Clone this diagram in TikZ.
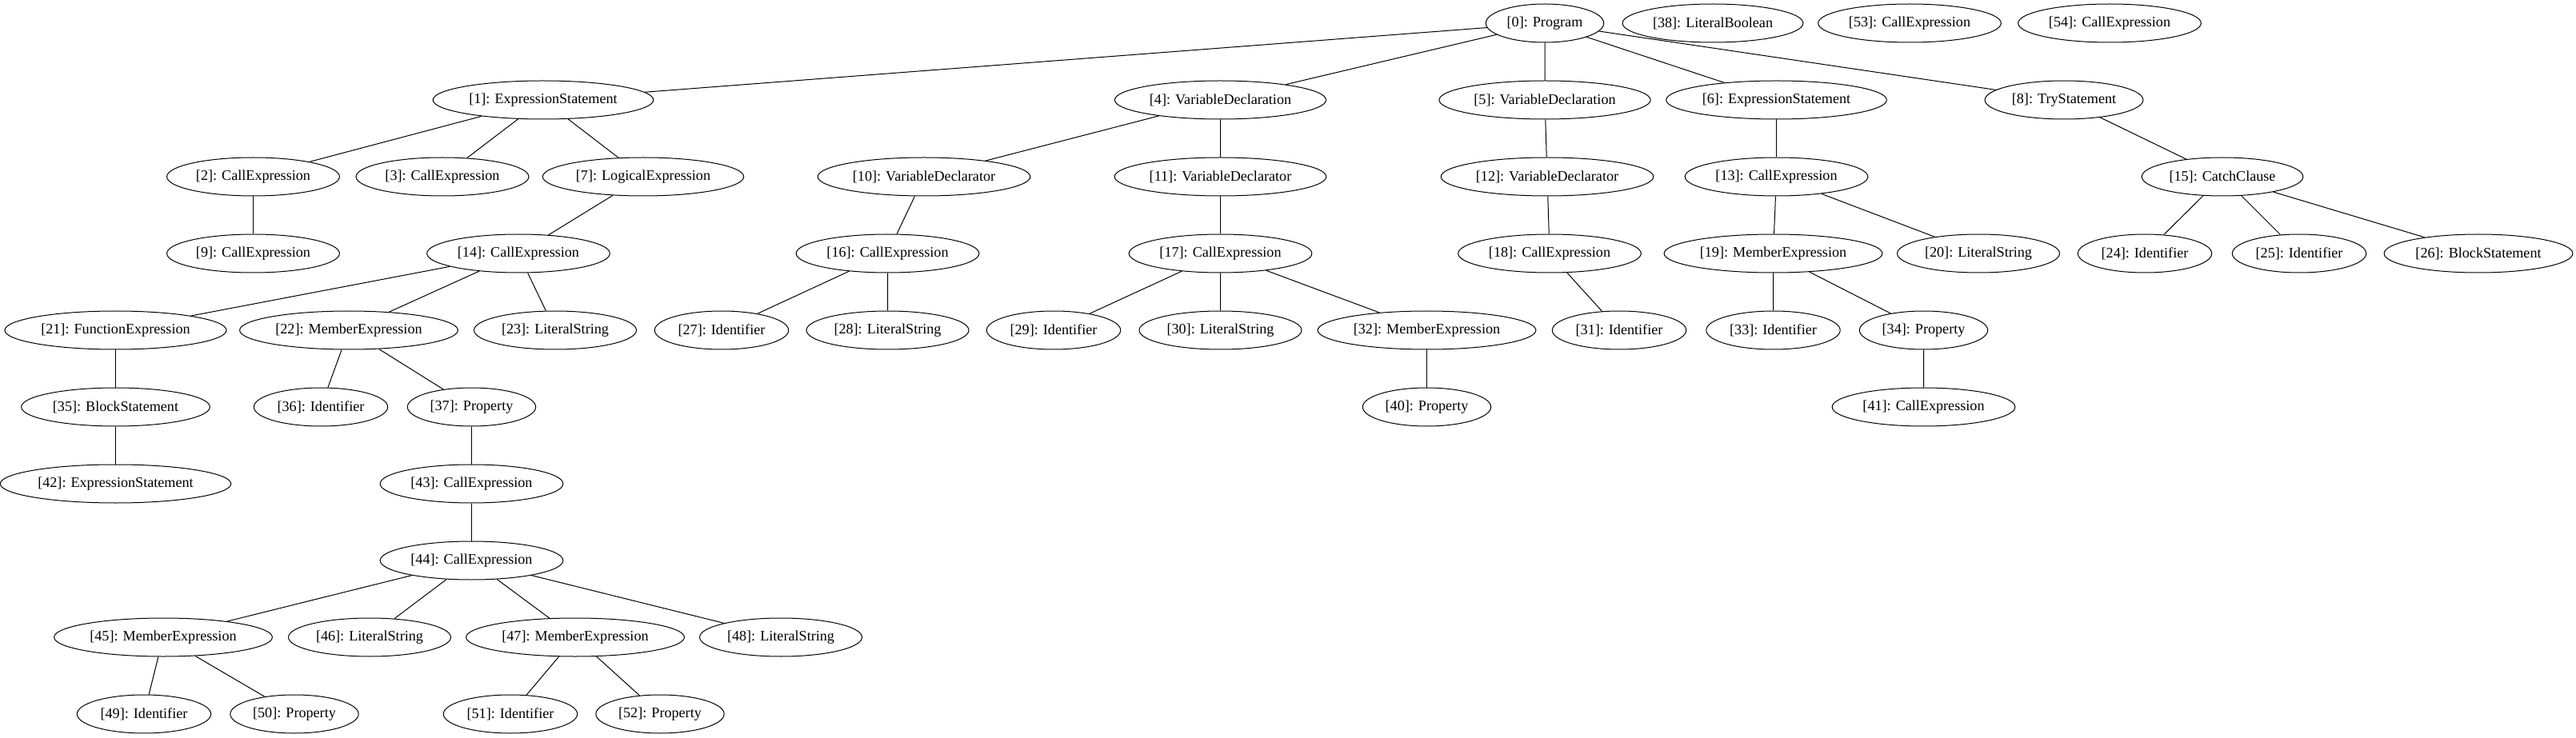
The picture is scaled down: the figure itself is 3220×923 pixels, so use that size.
\documentclass[tikz,border=0pt]{standalone}
\usepackage{fontspec}
\setmainfont{Liberation Serif}
\usepackage{tikz}
\usetikzlibrary{shapes.geometric}

\begin{document}
\begin{tikzpicture}[x=0.75pt, y=-0.75pt,
    ast/.style={draw, ellipse, line width=0.75pt, inner xsep=3.6pt,
      minimum height=36pt, font=\fontsize{13.6pt}{16pt}\selectfont},
    every path/.style={line width=0.75pt}]
    \useasboundingbox (0,0) rectangle (3220,923);

    % Top row
    \node[ast] (n0) at (1931,29) {[0]: Program};
    \node[ast] (n38) at (2141,29) {[38]: LiteralBoolean};
    \node[ast] (n53) at (2387,29) {[53]: CallExpression};
    \node[ast] (n54) at (2637,29) {[54]: CallExpression};

    % Statements
    \node[ast] (n1) at (679,125) {[1]: ExpressionStatement};
    \node[ast] (n4) at (1525.5,125) {[4]: VariableDeclaration};
    \node[ast] (n5) at (1931,125) {[5]: VariableDeclaration};
    \node[ast] (n6) at (2220.5,125) {[6]: ExpressionStatement};
    \node[ast] (n8) at (2580,125) {[8]: TryStatement};

    \node[ast] (n2) at (316.5,221) {[2]: CallExpression};
    \node[ast] (n3) at (553,221) {[3]: CallExpression};
    \node[ast] (n7) at (804,221) {[7]: LogicalExpression};
    \node[ast] (n10) at (1155,221) {[10]: VariableDeclarator};
    \node[ast] (n11) at (1525.5,221) {[11]: VariableDeclarator};
    \node[ast] (n12) at (1934,221) {[12]: VariableDeclarator};
    \node[ast] (n13) at (2220.5,221) {[13]: CallExpression};
    \node[ast] (n15) at (2778,221) {[15]: CatchClause};

    \node[ast] (n9) at (316.5,317) {[9]: CallExpression};
    \node[ast] (n14) at (648,317) {[14]: CallExpression};
    \node[ast] (n16) at (1109.5,317) {[16]: CallExpression};
    \node[ast] (n17) at (1525.5,317) {[17]: CallExpression};
    \node[ast] (n18) at (1937,317) {[18]: CallExpression};
    \node[ast] (n19) at (2216.5,317) {[19]: MemberExpression};
    \node[ast] (n20) at (2473,317) {[20]: LiteralString};
    \node[ast] (n24) at (2681,317) {[24]: Identifier};
    \node[ast] (n25) at (2874,317) {[25]: Identifier};
    \node[ast] (n26) at (3098,317) {[26]: BlockStatement};

    \node[ast] (n21) at (144.5,413) {[21]: FunctionExpression};
    \node[ast] (n22) at (436,413) {[22]: MemberExpression};
    \node[ast] (n23) at (694,413) {[23]: LiteralString};
    \node[ast] (n27) at (902,413) {[27]: Identifier};
    \node[ast] (n28) at (1109.5,413) {[28]: LiteralString};
    \node[ast] (n29) at (1317,413) {[29]: Identifier};
    \node[ast] (n30) at (1525.5,413) {[30]: LiteralString};
    \node[ast] (n32) at (1783.5,413) {[32]: MemberExpression};
    \node[ast] (n31) at (2024,413) {[31]: Identifier};
    \node[ast] (n33) at (2216.5,413) {[33]: Identifier};
    \node[ast] (n34) at (2404.5,413) {[34]: Property};

    \node[ast] (n35) at (144.5,509) {[35]: BlockStatement};
    \node[ast] (n36) at (401,509) {[36]: Identifier};
    \node[ast] (n37) at (589.5,509) {[37]: Property};
    \node[ast] (n40) at (1783.5,509) {[40]: Property};
    \node[ast] (n41) at (2404.5,509) {[41]: CallExpression};

    \node[ast] (n42) at (144.5,605) {[42]: ExpressionStatement};
    \node[ast] (n43) at (589.5,605) {[43]: CallExpression};

    % Deep call chain
    \node[ast] (n44) at (589.5,701) {[44]: CallExpression};
    \node[ast] (n45) at (204,797) {[45]: MemberExpression};
    \node[ast] (n46) at (462,797) {[46]: LiteralString};
    \node[ast] (n47) at (719,797) {[47]: MemberExpression};
    \node[ast] (n48) at (976,797) {[48]: LiteralString};
    \node[ast] (n49) at (180,893) {[49]: Identifier};
    \node[ast] (n50) at (368,893) {[50]: Property};
    \node[ast] (n51) at (638,893) {[51]: Identifier};
    \node[ast] (n52) at (825,893) {[52]: Property};

    % Edges
    \draw (n0) -- (n1) (n0) -- (n4) (n0) -- (n5) (n0) -- (n6) (n0) -- (n8);
    \draw (n1) -- (n2) (n1) -- (n3) (n1) -- (n7);
    \draw (n2) -- (n9);
    \draw (n7) -- (n14);
    \draw (n14) -- (n21) (n14) -- (n22) (n14) -- (n23);
    \draw (n21) -- (n35) (n35) -- (n42);
    \draw (n22) -- (n36) (n22) -- (n37);
    \draw (n37) -- (n43) (n43) -- (n44);
    \draw (n44) -- (n45) (n44) -- (n46) (n44) -- (n47) (n44) -- (n48);
    \draw (n45) -- (n49) (n45) -- (n50);
    \draw (n47) -- (n51) (n47) -- (n52);
    \draw (n4) -- (n10) (n4) -- (n11);
    \draw (n10) -- (n16);
    \draw (n16) -- (n27) (n16) -- (n28);
    \draw (n11) -- (n17);
    \draw (n17) -- (n29) (n17) -- (n30) (n17) -- (n32);
    \draw (n32) -- (n40);
    \draw (n5) -- (n12) (n12) -- (n18) (n18) -- (n31);
    \draw (n6) -- (n13);
    \draw (n13) -- (n19) (n13) -- (n20);
    \draw (n19) -- (n33) (n19) -- (n34) (n34) -- (n41);
    \draw (n8) -- (n15);
    \draw (n15) -- (n24) (n15) -- (n25) (n15) -- (n26);
\end{tikzpicture}
\end{document}
